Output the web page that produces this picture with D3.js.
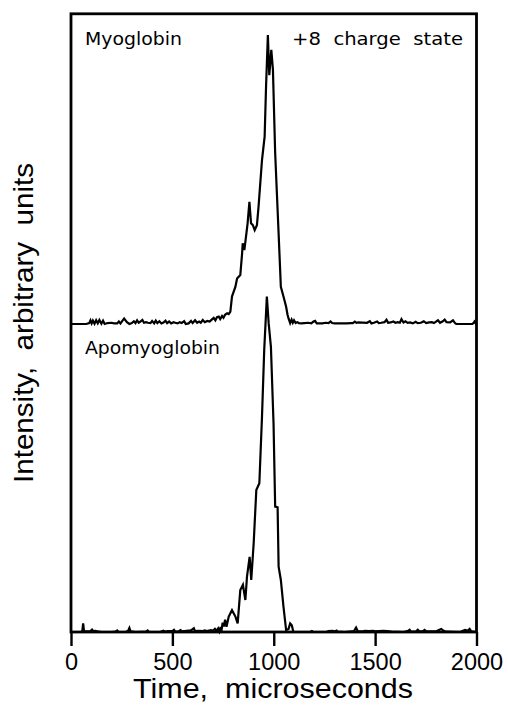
<!DOCTYPE html>
<html><head><meta charset="utf-8">
<script src="https://cdn.jsdelivr.net/npm/d3@7"></script>
<style>html,body{margin:0;padding:0;background:#fff;}</style>
</head><body>
<svg id="c" width="508" height="706"></svg>
<script>
// Time axis (microseconds)
const xTicks = [0, 500, 1000, 1500, 2000];
// Panel labels
const panelLabels = ["Myoglobin", "+8  charge  state", "Apomyoglobin"];
// Offset of the upper trace (arbitrary units)
const myoOffset = 1.0;

// Myoglobin +8 trace: [time, intensity]
const myoglobin = [[0,0],[75,0],[90,0.003],[96,0.012],[102,0.002],[108,0.011],[116,0.001],[124,0.012],[132,0.002],[140,0.013],[150,0.001],[158,0.011],[166,0.000],[180,0.003],[200,0.004],[212,0.002],[228,0.002],[236,0.008],[244,0.002],[262,0.018],[276,0.006],[288,0.000],[300,0.003],[310,0.009],[318,0.003],[326,0.012],[334,0.004],[342,0.008],[352,0.013],[360,0.004],[370,0.006],[380,0.004],[392,0.003],[400,0.010],[410,0.002],[418,0.011],[426,0.003],[436,0.009],[446,0.002],[456,0.005],[466,0.011],[474,0.003],[484,0.008],[494,0.002],[506,0.006],[514,0.004],[526,0.002],[536,0.006],[546,0.003],[558,0.009],[566,0.000],[580,0.002],[592,0.010],[600,0.003],[612,0.012],[622,0.004],[632,0.008],[640,0.004],[650,0.013],[660,0.006],[672,0.010],[684,0.008],[694,0.014],[704,0.020],[712,0.012],[720,0.022],[729,0.024],[736,0.016],[745,0.026],[752,0.020],[760,0.030],[770,0.035],[778,0.032],[786,0.040],[794,0.089],[811,0.121],[819,0.148],[835,0.159],[844,0.230],[847,0.262],[855,0.240],[863,0.283],[871,0.327],[880,0.397],[888,0.327],[897,0.321],[906,0.305],[917,0.321],[925,0.381],[942,0.532],[955,0.608],[962,0.770],[971,0.938],[978,0.808],[988,0.890],[996,0.825],[1007,0.555],[1024,0.294],[1035,0.121],[1048,0.089],[1061,0.056],[1068,0.030],[1073,0.018],[1081,0.003],[1088,0.014],[1094,0.004],[1100,0.012],[1108,0.003],[1116,0.006],[1124,0.003],[1136,0.002],[1150,0.003],[1170,0.004],[1185,0.002],[1196,0.008],[1204,0.010],[1212,0.002],[1240,0.002],[1256,0.004],[1270,0.003],[1280,0.008],[1288,0.003],[1300,0.002],[1360,0.002],[1380,0.003],[1390,0.003],[1400,0.008],[1408,0.004],[1416,0.005],[1460,0.004],[1474,0.009],[1482,0.002],[1494,0.004],[1510,0.008],[1518,0.003],[1530,0.004],[1546,0.006],[1556,0.014],[1564,0.004],[1576,0.005],[1590,0.008],[1600,0.004],[1612,0.006],[1622,0.004],[1630,0.016],[1640,0.005],[1650,0.009],[1660,0.004],[1672,0.005],[1686,0.002],[1700,0.007],[1710,0.003],[1726,0.004],[1740,0.009],[1752,0.003],[1766,0.005],[1780,0.006],[1790,0.003],[1810,0.012],[1820,0.004],[1832,0.008],[1843,0.014],[1852,0.006],[1870,0.005],[1884,0.012],[1894,0.003],[1900,0.000],[1980,0],[1986,0.004],[1990,0.008],[1996,0.002],[2000,0]];

// Apomyoglobin trace: [time, intensity]
const apomyoglobin = [[0,0],[50,0],[56,0.004],[60,0.028],[64,0.004],[70,0.002],[80,0.002],[96,0.003],[104,0.008],[110,0.003],[120,0.004],[130,0.002],[150,0],[200,0],[220,0.001],[228,0.005],[234,0],[270,0],[282,0.004],[288,0.013],[294,0.002],[320,0],[370,0.001],[378,0.005],[384,0],[440,0],[448,0.002],[456,0.004],[462,0.001],[480,0.003],[500,0.003],[508,0.007],[514,0.001],[530,0.002],[540,0.006],[548,0.002],[570,0.004],[590,0.005],[600,0.009],[606,0.012],[612,0.003],[630,0.004],[650,0.003],[660,0.005],[670,0.003],[690,0.006],[700,0.004],[710,0.010],[718,0.004],[726,0.012],[732,0.002],[738,0.016],[742,0.004],[748,0.030],[754,0.018],[760,0.040],[767,0.017],[778,0.050],[794,0.071],[811,0.050],[822,0.028],[835,0.136],[848,0.153],[860,0.104],[868,0.180],[881,0.244],[889,0.169],[901,0.288],[914,0.461],[929,0.483],[942,0.699],[953,0.916],[966,1.089],[975,1.002],[986,0.926],[999,0.677],[1007,0.407],[1019,0.405],[1024,0.212],[1035,0.169],[1048,0.082],[1061,0.006],[1073,0.010],[1081,0.028],[1089,0.022],[1097,0.000],[1180,0],[1188,0.003],[1194,0],[1260,0],[1270,0.003],[1290,0.004],[1300,0.002],[1310,0.005],[1316,0.001],[1350,0],[1396,0.003],[1406,0.014],[1414,0.003],[1440,0.002],[1450,0.004],[1470,0.003],[1490,0.004],[1500,0.002],[1520,0.003],[1540,0.004],[1560,0.003],[1580,0.001],[1640,0],[1660,0.003],[1670,0.007],[1676,0.001],[1700,0.001],[1710,0.007],[1718,0.002],[1736,0.003],[1744,0.007],[1752,0.002],[1800,0.002],[1812,0.006],[1826,0.010],[1838,0.004],[1850,0.001],[1920,0],[1930,0.003],[1944,0.007],[1956,0.004],[1966,0.010],[1974,0.002],[2000,0]];

const svg = d3.select("#c");
const L = 71, R = 476.5, T = 13.8, B = 632;
const x = d3.scaleLinear().domain([0, 2000]).range([L, R]);
const y = d3.scaleLinear().domain([0, 2]).range([B, 16]);

const line = off => d3.line().x(d => x(d[0])).y(d => y(d[1] + off));

svg.append("path").datum(myoglobin).attr("d", line(myoOffset))
  .attr("fill", "none").attr("stroke", "#000").attr("stroke-width", 2.2);
svg.append("path").datum(apomyoglobin).attr("d", line(0))
  .attr("fill", "none").attr("stroke", "#000").attr("stroke-width", 2.2);

// frame
svg.append("rect").attr("x", L).attr("y", T).attr("width", R - L).attr("height", B - T)
  .attr("fill", "none").attr("stroke", "#000").attr("stroke-width", 2.8);

// x axis
const ax = svg.append("g").attr("transform", `translate(0,${B})`)
  .call(d3.axisBottom(x).tickValues(xTicks).tickSize(14).tickPadding(7).tickFormat(d3.format("d")));
ax.select(".domain").remove();
ax.selectAll(".tick line").attr("stroke-width", 2.4);
ax.selectAll(".tick text").attr("font-family", "Liberation Sans, Arial, sans-serif").attr("font-size", 23.5).attr("fill", "#000");

// axis titles
svg.append("text").attr("x", 273).attr("y", 698).attr("text-anchor", "middle")
  .attr("font-family", "Liberation Sans, Arial, sans-serif").attr("font-size", 28)
  .attr("textLength", 280).attr("lengthAdjust", "spacingAndGlyphs")
  .text("Time,\u00a0\u00a0microseconds");
svg.append("text").attr("transform", "translate(33,323) rotate(-90)").attr("text-anchor", "middle")
  .attr("font-family", "Liberation Sans, Arial, sans-serif").attr("font-size", 28)
  .attr("textLength", 320).attr("lengthAdjust", "spacingAndGlyphs")
  .text("Intensity,\u00a0\u00a0arbitrary\u00a0\u00a0units");

// panel labels
const lab = (t, xx, yy, w) => svg.append("text").attr("x", xx).attr("y", yy)
  .attr("font-family", "DejaVu Sans, sans-serif").attr("font-size", 18)
  .attr("textLength", w).attr("lengthAdjust", "spacingAndGlyphs")
  .text(t.replace(/ /g, "\u00a0"));
lab(panelLabels[0], 85, 45, 97);
lab(panelLabels[1], 292, 45, 171);
lab(panelLabels[2], 85, 354, 135);
</script>
</body></html>
